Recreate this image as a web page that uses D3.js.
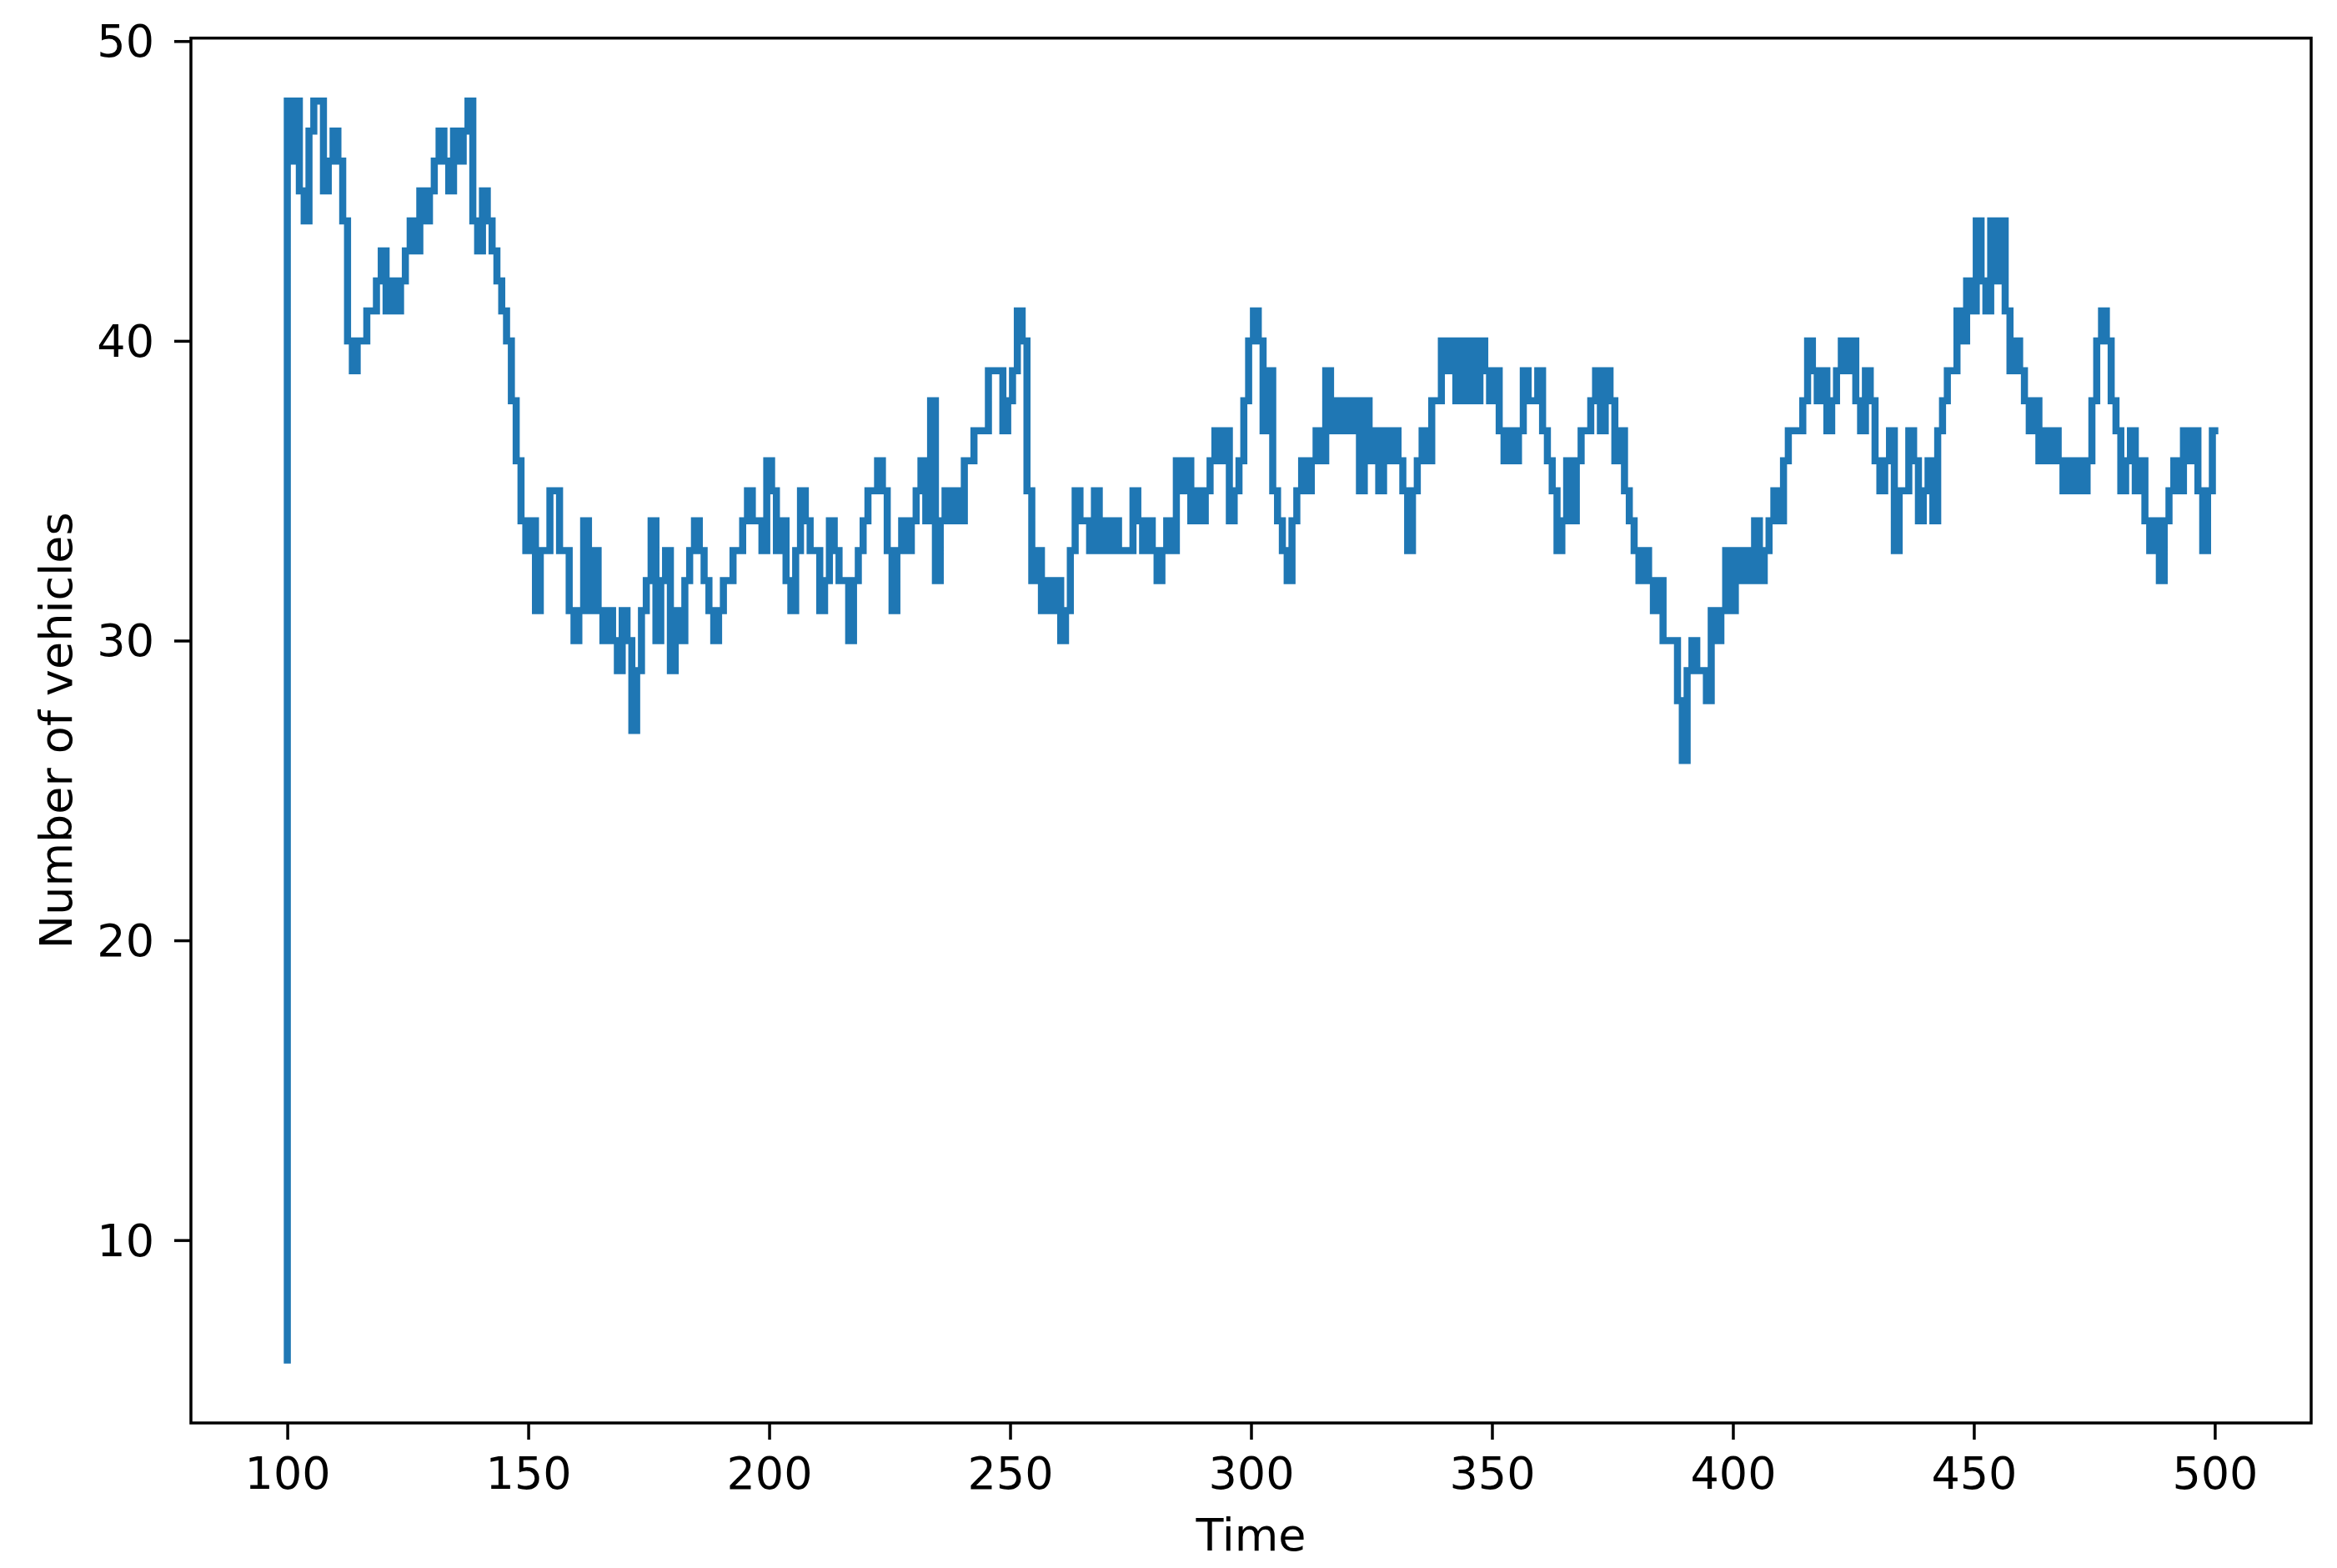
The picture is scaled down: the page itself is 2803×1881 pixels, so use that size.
<!DOCTYPE html>
<html>
<head>
<meta charset="utf-8">
<script src="https://cdn.jsdelivr.net/npm/d3@7"></script>
<style>
  html, body { margin: 0; padding: 0; background: #ffffff; }
  svg { display: block; }
  text { font-family: "DejaVu Sans", sans-serif; fill: #000000; }
</style>
</head>
<body>
<svg id="chart" width="2803" height="1881"></svg>
<script>
// ---- data ----
const timeStart = 100;
const timeEnd = 500;
const initialVehicles = 6;          // value at t = 100 before the jump
// number of vehicles sampled at each integer time 100..500
const vehicles = [
  48,46,48,45,44,47,48,48,45,46,
  47,46,44,40,39,40,40,41,41,42,
  43,41,42,41,42,43,44,43,45,44,
  45,46,47,46,45,47,46,47,48,44,
  43,45,44,43,42,41,40,38,36,34,
  33,34,31,33,33,35,35,33,33,31,
  30,31,34,31,33,31,30,31,30,29,
  31,30,27,29,31,32,34,30,32,33,
  29,31,30,32,33,34,33,32,31,30,
  31,32,32,33,33,34,35,34,34,33,
  36,35,33,34,32,31,33,35,34,33,
  33,31,32,34,33,32,32,30,32,33,
  34,35,35,36,35,33,31,33,34,33,
  34,35,36,34,38,32,34,35,34,35,
  34,36,36,37,37,37,39,39,39,37,
  38,39,41,40,35,32,33,31,32,31,
  32,30,31,33,35,34,34,33,35,33,
  34,33,34,33,33,33,35,34,33,34,
  33,32,33,34,33,36,35,36,34,35,
  34,35,36,37,36,37,34,35,36,38,
  40,41,40,37,39,35,34,33,32,34,
  35,36,35,36,37,36,39,37,38,37,
  38,37,38,35,38,36,37,35,37,36,
  37,36,35,33,35,36,37,36,38,38,
  40,39,40,38,40,38,40,38,40,39,
  38,39,37,36,37,36,37,39,38,38,
  39,37,36,35,33,34,36,34,36,37,
  37,38,39,37,39,38,36,37,35,34,
  33,32,33,32,31,32,30,30,30,28,
  26,29,30,29,29,28,31,30,31,33,
  31,33,32,33,32,34,32,33,34,35,
  34,36,37,37,37,38,40,39,38,39,
  37,38,39,40,39,40,38,37,39,38,
  36,35,36,37,33,35,35,37,36,34,
  35,36,34,37,38,39,39,41,40,42,
  41,44,42,41,44,42,44,41,39,40,
  39,38,37,38,36,37,36,37,36,35,
  36,35,36,35,36,38,40,41,40,38,
  37,35,36,37,35,36,34,33,34,32,
  34,35,36,35,37,36,37,35,33,35,
  37
];
const xTicks = [100, 150, 200, 250, 300, 350, 400, 450, 500];
const yTicks = [10, 20, 30, 40, 50];
const xLabel = "Time";
const yLabel = "Number of vehicles";

// ---- layout ----
const W = 2803, H = 1881;
const plot = { left: 229, right: 2772, top: 45.7, bottom: 1707 };
const lineColor = "#1f77b4";
const fontSize = 54;

const data = [{ t: timeStart, v: initialVehicles }]
  .concat(vehicles.map((v, i) => ({ t: timeStart + i, v })));

// matplotlib-style 5% margins
const xMin = timeStart, xMax = timeEnd;
const yMinD = d3.min(data, d => d.v), yMaxD = d3.max(data, d => d.v);
const xPad = (xMax - xMin) * 0.05, yPad = (yMaxD - yMinD) * 0.05;

const x = d3.scaleLinear().domain([xMin - xPad, xMax + xPad]).range([plot.left, plot.right]);
const y = d3.scaleLinear().domain([yMinD - yPad, yMaxD + yPad]).range([plot.bottom, plot.top]);

const svg = d3.select("#chart");
svg.append("rect").attr("width", W).attr("height", H).attr("fill", "#ffffff");

// line
const line = d3.line().x(d => x(d.t)).y(d => y(d.v)).curve(d3.curveStep);
svg.append("path")
  .datum(data)
  .attr("d", line)
  .attr("fill", "none")
  .attr("stroke", lineColor)
  .attr("stroke-width", 8.5)
  .attr("stroke-linejoin", "miter")
  .attr("stroke-linecap", "square");

// axes
const xAxis = d3.axisBottom(x).tickValues(xTicks).tickSize(20).tickPadding(21).tickSizeOuter(0);
const yAxis = d3.axisLeft(y).tickValues(yTicks).tickSize(20).tickPadding(24).tickSizeOuter(0);

const gx = svg.append("g").attr("transform", `translate(0,${plot.bottom})`).call(xAxis);
const gy = svg.append("g").attr("transform", `translate(${plot.left},0)`).call(yAxis);
[gx, gy].forEach(g => {
  g.select(".domain").remove();
  g.selectAll(".tick line").attr("stroke", "#000").attr("stroke-width", 3.5);
  g.selectAll(".tick text")
    .attr("fill", "#000")
    .style("font-family", '"DejaVu Sans", sans-serif')
    .style("font-size", fontSize + "px");
});
gy.selectAll(".tick text").attr("dy", "0.34em");

// frame (spines)
svg.append("rect")
  .attr("x", plot.left).attr("y", plot.top)
  .attr("width", plot.right - plot.left).attr("height", plot.bottom - plot.top)
  .attr("fill", "none").attr("stroke", "#000").attr("stroke-width", 3.5);

// axis labels
svg.append("text")
  .attr("x", (plot.left + plot.right) / 2)
  .attr("y", 1860)
  .attr("text-anchor", "middle")
  .style("font-size", fontSize + "px")
  .text(xLabel);

svg.append("text")
  .attr("transform", `translate(86,${(plot.top + plot.bottom) / 2}) rotate(-90)`)
  .attr("text-anchor", "middle")
  .style("font-size", fontSize + "px")
  .text(yLabel);
</script>
</body>
</html>
